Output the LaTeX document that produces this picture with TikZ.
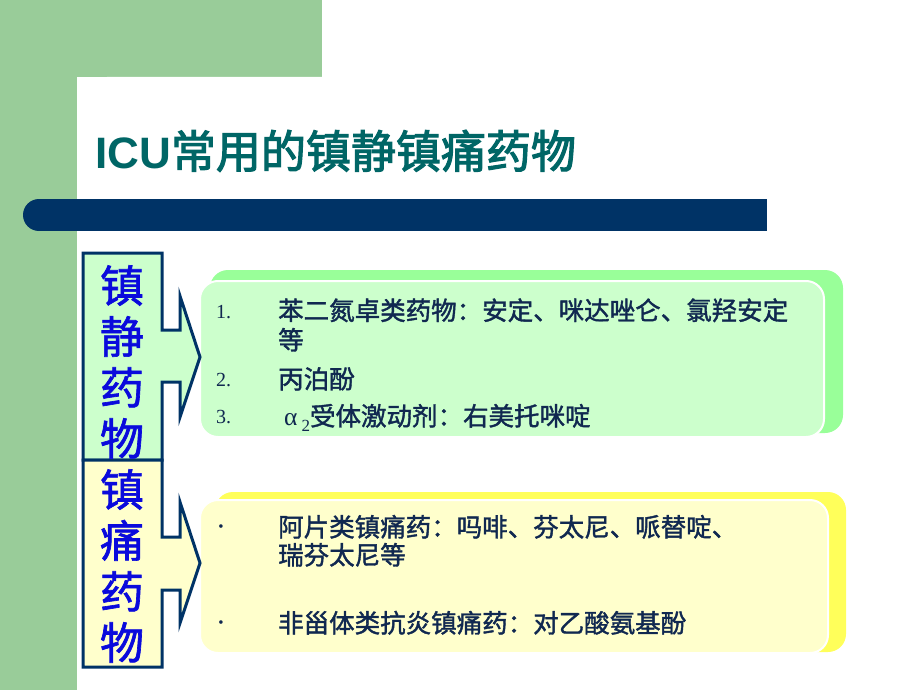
\documentclass[tikz,border=0pt]{standalone}
\usepackage{fontspec}
\setmainfont{Liberation Serif}
\newfontfamily\cjk{Noto Sans CJK SC}
\newfontfamily\cjkm[FakeBold=1.5]{Noto Sans CJK SC}
\newfontfamily\cjkt[FakeBold=2.5]{Noto Sans CJK SC}
\newfontfamily\arialf{Liberation Sans}
\newfontfamily\serf{Liberation Serif}
\definecolor{bggreen}{RGB}{153,204,153}
\definecolor{barblue}{RGB}{0,51,102}
\definecolor{titleteal}{RGB}{0,102,102}
\definecolor{navyline}{RGB}{0,51,102}
\definecolor{lgreen}{RGB}{204,255,204}
\definecolor{sgreen}{RGB}{153,255,153}
\definecolor{lyellow}{RGB}{255,255,204}
\definecolor{syellow}{RGB}{255,255,90}
\definecolor{bodytext}{RGB}{16,40,80}
\definecolor{vblue}{RGB}{10,10,220}
\tikzset{
  catbox/.style={draw=navyline, line width=3pt, line join=miter},
  shadowbox/.style={rounded corners=18pt},
  frontbox/.style={draw=white, line width=2pt, rounded corners=18pt},
  numlbl/.style={anchor=base west, inner sep=0pt, text=bodytext, font=\serf\fontsize{20}{22}\selectfont},
  bulletlbl/.style={anchor=center, inner sep=0pt, text=bodytext, font=\serf\fontsize{15}{16}\selectfont},
  bodyline/.style={anchor=base west, inner sep=0pt, text=bodytext, font=\cjkm\fontsize{25.5}{30}\selectfont},
  vtext/.style={align=center, inner sep=0pt, text=vblue, font=\cjkm\fontsize{44}{51}\selectfont},
}
\begin{document}
\begin{tikzpicture}[x=1pt,y=-1pt]
\useasboundingbox (0,0) rectangle (920,690);
% background
\fill[bggreen] (0,0) rectangle (322,77);
\fill[bggreen] (0,0) rectangle (77,690);
\fill[white, rounded corners=30pt] (77,77) rectangle (960,740);
% bar
\fill[barblue] (39,199) rectangle (767,231);
\fill[barblue] (39,215) circle (16pt);
% title
\node[anchor=base west, inner sep=0pt, text=titleteal] (title) at (95,168)
  {{\arialf\bfseries\fontsize{44}{48}\selectfont ICU}{\cjkt\fontsize{45}{48}\selectfont 常用的镇静镇痛药物}};
% right boxes
\fill[sgreen, shadowbox] (210,270) rectangle (843,433);
\filldraw[fill=lgreen, frontbox] (200,281) rectangle (824,437);
\fill[syellow, shadowbox] (215,492) rectangle (846,652);
\filldraw[fill=lyellow, frontbox] (200,500) rectangle (828,653);
% left category boxes with arrows
\filldraw[catbox, fill=lgreen] (83,253) -- (162,253) -- (162,330) -- (180,330) -- (180,296)
  -- (200,357) -- (180,417) -- (180,382) -- (162,382) -- (162,460) -- (83,460) -- cycle;
\filldraw[catbox, fill=lyellow] (83,460) -- (162,460) -- (162,537) -- (180,537) -- (180,502)
  -- (200,563) -- (180,623) -- (180,590) -- (162,590) -- (162,667) -- (83,667) -- cycle;
\node[vtext] (sed) at (122,362) {镇\\静\\药\\物};
\node[vtext] (ana) at (122,566) {镇\\痛\\药\\物};
% green box text
\node[numlbl] (n1) at (216,318) {1.};
\node[bodyline] (l1) at (278,320) {苯二氮卓类药物：安定、咪达唑仑、氯羟安定};
\node[bodyline] (l1b) at (278,349.5) {等};
\node[numlbl] (n2) at (216,386) {2.};
\node[bodyline] (l2) at (278,388.5) {丙泊酚};
\node[numlbl] (n3) at (216,423) {3.};
\node[bodyline] (l3) at (284,425.5) {{\serf α}\hspace{4pt}\raisebox{-6pt}{\serf\fontsize{17}{20}\selectfont 2}受体激动剂：右美托咪啶};
% yellow box text
\node[bulletlbl] (b1) at (221,528) {•};
\node[bodyline] (y1) at (278,536.5) {阿片类镇痛药：吗啡、芬太尼、哌替啶、};
\node[bodyline] (y1b) at (278,564.5) {瑞芬太尼等};
\node[bulletlbl] (b2) at (221,624) {•};
\node[bodyline] (y2) at (278,632.5) {非甾体类抗炎镇痛药：对乙酸氨基酚};
\end{tikzpicture}
\end{document}
